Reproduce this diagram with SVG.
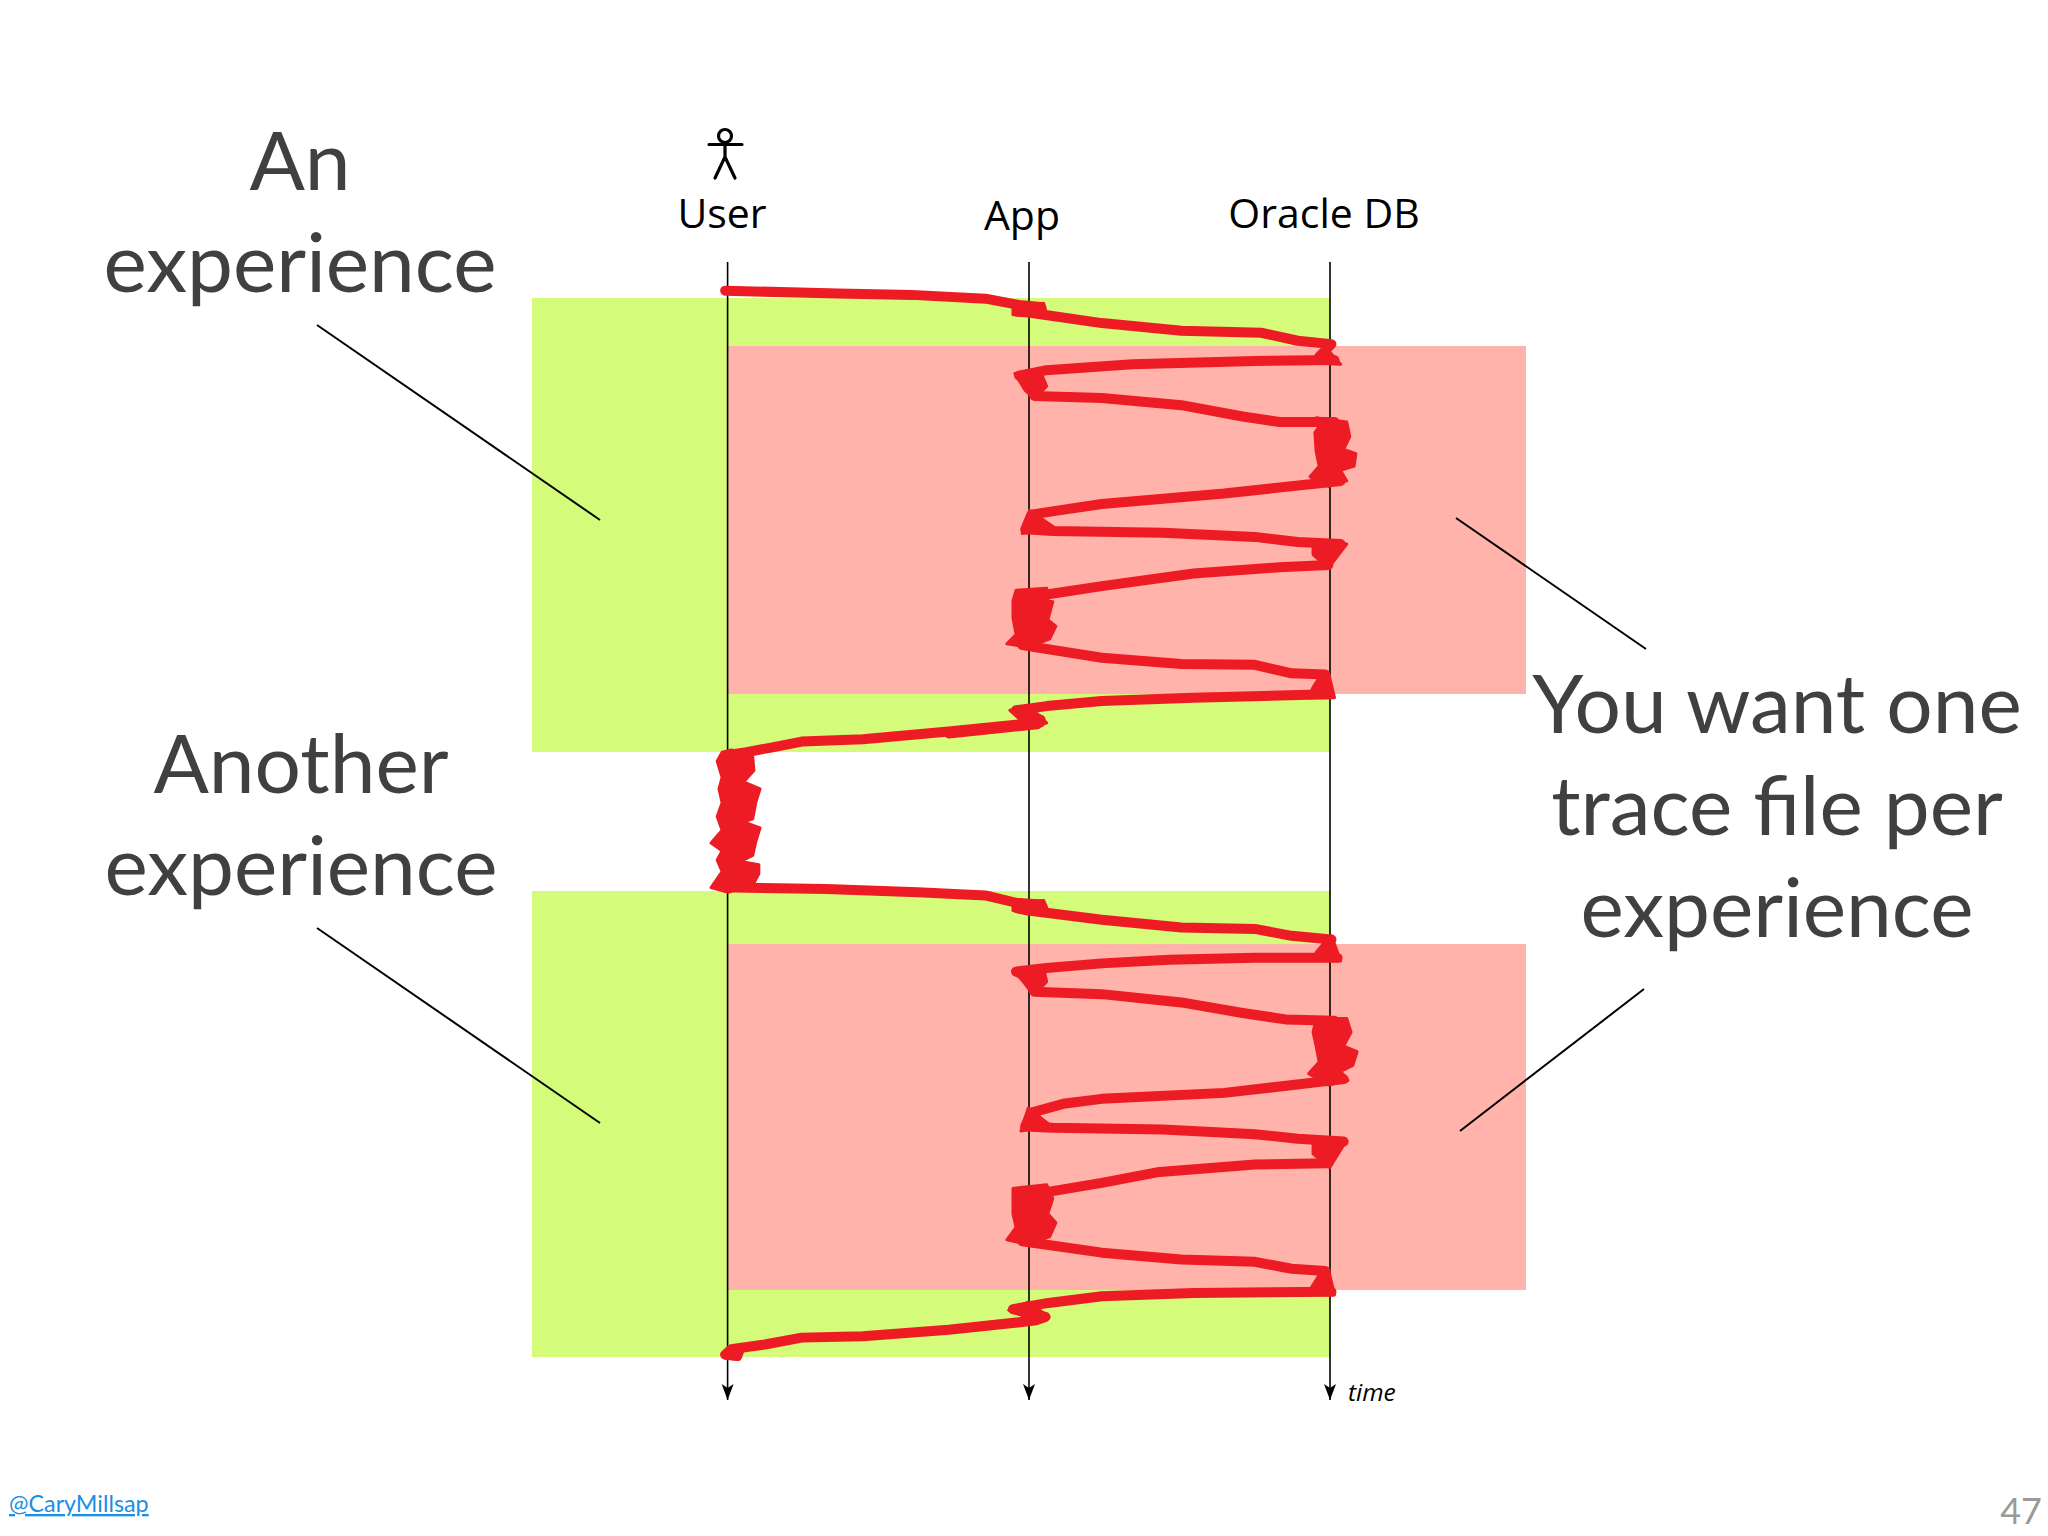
<svg xmlns="http://www.w3.org/2000/svg" width="2048" height="1536" viewBox="0 0 2048 1536">
<style>
.big{font-family:"Lato","Open Sans",sans-serif;font-size:82px;fill:#404040;text-anchor:middle}
.lab{font-family:"Open Sans","Noto Sans",sans-serif;font-size:41px;fill:#000;text-anchor:middle}
.g{fill:#d4fb79}.p{fill:#ffb3ab}
.ax{stroke:#000;stroke-width:1.6;fill:none;marker-end:url(#ah)}
.call{stroke:#000;stroke-width:2;fill:none}
.tr{fill:none;stroke:#ed1c24;stroke-width:10;stroke-linejoin:round;stroke-linecap:round;vector-effect:non-scaling-stroke}
.kn{fill:#ed1c24;stroke:#ed1c24;stroke-width:3;stroke-linejoin:round;vector-effect:non-scaling-stroke}
</style>
<defs>
<marker id="ah" markerUnits="userSpaceOnUse" markerWidth="18" markerHeight="14" refX="16" refY="6" orient="auto"><path d="M0 0L16 6L0 12L4 6Z" fill="#000"/></marker></defs>
<rect width="2048" height="1536" fill="#fff"/>
<g id="experience-bands">
<rect class="g" x="532" y="298" width="798" height="454"/>
<rect class="p" x="728" y="346" width="798" height="348"/>
<rect class="g" x="532" y="891" width="798" height="466"/>
<rect class="p" x="728" y="944" width="798" height="346"/>
</g>
<g id="connectors">
<path class="ax" d="M727.600 262V1400"/>
<path class="ax" d="M1029 262V1400"/>
<path class="ax" d="M1330 262V1400"/>
<path class="call" d="M317 325L600 520"/>
<path class="call" d="M1456 518L1646 649"/>
<path class="call" d="M317 928L600 1123"/>
<path class="call" d="M1644 989L1460 1131"/>
<g transform="translate(520 100) scale(.6124 .4209)">
<polyline class="tr" points="335,453 520,460 640,463 760,472 815,487 850,492 812,503 830,505 950,530 1080,548 1210,553 1270,572 1325,580 1305,610 1330,618 1200,620 1000,628 860,642 815,655 850,672 830,670 840,703 950,708 1080,725 1180,752 1240,765 1330,765"/>
<polyline class="tr" points="1340,905 1150,935 950,960 880,975 835,985 825,1020 870,1024 1050,1028 1200,1038 1270,1050 1340,1055 1305,1075 1320,1105 1240,1110 1100,1125 950,1155 860,1175"/>
<polyline class="tr" points="820,1295 950,1325 1080,1340 1200,1342 1260,1362 1315,1365 1300,1400 1320,1412 1100,1420 950,1428 860,1440 810,1450 850,1472 845,1483 700,1505"/>
<polygon class="kn" points="1320,595 1340,628 1295,625"/>
<polygon class="kn" points="805,490 855,483 858,497 830,510 805,510"/>
<polygon class="kn" points="808,650 850,645 860,680 840,710 825,690"/>
<polygon class="kn" points="820,1030 832,975 875,1018"/>
<polygon class="kn" points="1295,1045 1350,1055 1320,1112 1295,1080"/>
<polygon class="kn" points="1300,1385 1320,1360 1330,1420 1285,1420"/>
<polygon class="kn" points="800,1450 830,1438 860,1480 830,1490"/>
<polygon class="kn" points="1300,755 1350,765 1355,800 1345,830 1365,840 1362,870 1340,880 1350,905 1320,918 1290,895 1305,870 1300,835 1298,790 1310,765"/>
<polygon class="kn" points="810,1165 860,1160 862,1190 870,1192 862,1235 875,1250 865,1280 830,1300 795,1292 810,1270 805,1230 805,1190"/>
</g>
<g transform="translate(520 720) scale(.6124 .4592)">
<polyline class="tr" points="850,5 700,25 560,42 460,47 410,60 370,70 345,75"/>
<polygon class="kn" points="345,65 380,80 382,110 365,135 392,150 385,180 380,215 365,222 392,235 385,265 380,295 360,308 390,315 390,335 380,360 340,375 312,365 330,330 322,305 330,285 312,268 330,240 322,210 330,180 325,150 330,125 322,90 330,70"/>
<polyline class="tr" points="350,365 500,368 650,375 760,382 810,398 850,402 812,410 830,415 950,435 1080,452 1200,455 1260,470 1325,478 1305,510 1335,518 1200,518 1060,522 950,530 860,540 810,548 852,570 830,565 840,592 950,597 1080,615 1180,638 1250,652 1330,655"/>
<polyline class="tr" points="1345,782 1150,812 950,825 890,835 835,855 825,885 870,888 1050,892 1200,902 1270,912 1345,918 1305,938 1320,965 1200,968 1040,985 950,1008 860,1028"/>
<polyline class="tr" points="820,1135 950,1160 1080,1175 1200,1180 1260,1195 1315,1200 1300,1235 1325,1245 1100,1248 950,1255 860,1270 805,1283 858,1300 840,1308 700,1328 560,1342 460,1345 400,1360 345,1370 335,1382 355,1385"/>
<polygon class="kn" points="805,400 855,393 860,408 830,422 805,415"/>
<polygon class="kn" points="1295,520 1325,470 1340,525"/>
<polygon class="kn" points="805,545 855,538 860,570 838,598 822,570"/>
<polygon class="kn" points="818,895 830,845 865,882"/>
<polygon class="kn" points="1295,915 1350,915 1322,975 1295,945"/>
<polygon class="kn" points="1300,1220 1320,1195 1330,1252 1285,1250"/>
<polygon class="kn" points="798,1285 830,1268 864,1300 845,1312 825,1300"/>
<polygon class="kn" points="330,1380 345,1365 365,1372 358,1392 335,1390"/>
<polygon class="kn" points="1300,650 1350,650 1357,680 1345,710 1367,722 1360,752 1340,765 1352,785 1320,795 1288,770 1305,745 1300,710 1295,680"/>
<polygon class="kn" points="805,1020 860,1012 870,1042 862,1075 875,1095 865,1125 830,1142 795,1132 810,1105 805,1075 805,1040"/>
</g>
</g>
<g id="user-icon" fill="none" stroke="#000" stroke-width="3.200" stroke-linecap="round">
<circle cx="725" cy="136" r="6.500"/>
<path d="M709 144.500H742M725 143V157L715 178M725 157L735 178"/>
</g>
<g id="user"><text class="lab" x="722" y="228">User</text></g>
<g id="app"><text class="lab" x="1022" y="230">App</text></g>
<g id="oracle-db"><text class="lab" x="1324" y="228">Oracle DB</text></g>
<g id="time"><text x="1348" y="1401" font-family="'Open Sans',sans-serif" font-style="italic" font-size="24.500" fill="#000">time</text></g>
<g id="an-experience"><text class="big" x="300" y="190">An</text><text class="big" x="300" y="292">experience</text></g>
<g id="another-experience"><text class="big" x="301" y="793">Another</text><text class="big" x="301" y="895">experience</text></g>
<g id="one-trace-file"><text class="big" x="1777" y="733">You want one</text><text class="big" x="1777" y="835">trace file per</text><text class="big" x="1777" y="937">experience</text></g>
<text x="9" y="1512" font-family="Lato,'Open Sans',sans-serif" font-size="23.300" fill="#1a8fe3" text-decoration="underline">@CaryMillsap</text>
<text x="2042" y="1524" font-family="Lato,'Open Sans',sans-serif" font-size="36" fill="#999" text-anchor="end">47</text>
</svg>
